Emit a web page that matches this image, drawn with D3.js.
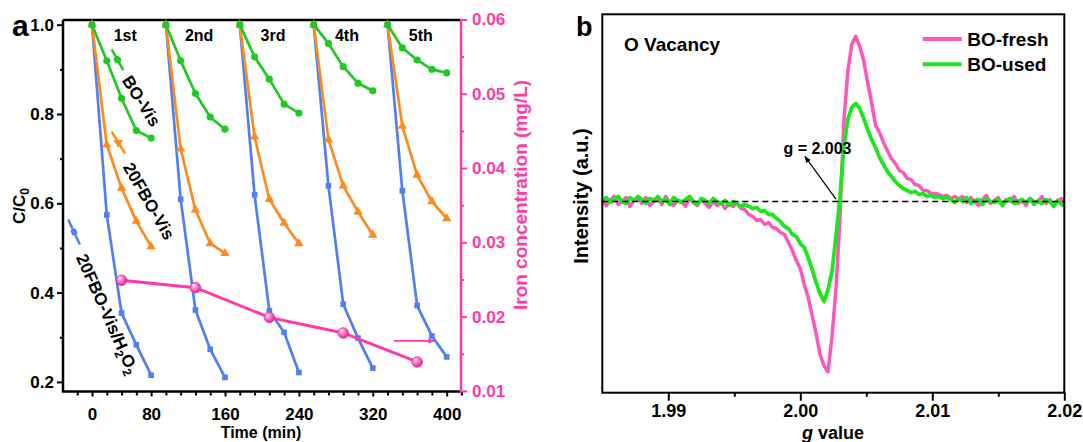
<!DOCTYPE html>
<html>
<head>
<meta charset="utf-8">
<script src="https://cdn.jsdelivr.net/npm/d3@7"></script>
<style>
body { margin: 0; background: #fff; }
svg { font-family: "Liberation Sans", Arial, sans-serif; font-weight: bold; }
</style>
</head>
<body>
<script>
const W = 1083
const H = 442

// ---------- panel a data ----------
const cycleLabels = ['1st', '2nd', '3rd', '4th', '5th']
const cycleLabelTimes = [52, 132, 212, 292, 372]
const cycleTimes = [
    [16, 32, 48, 64, 80],
    [96, 112, 128, 144, 160],
    [176, 192, 208, 224, 240],
    [256, 272, 288, 304, 320],
    [336, 352, 368, 384, 400]
]
const h2o2Vals = [
    [1.0, 0.574, 0.354, 0.283, 0.215],
    [1.0, 0.609, 0.361, 0.273, 0.210],
    [1.0, 0.619, 0.359, 0.311, 0.221],
    [1.0, 0.639, 0.374, 0.298, 0.231],
    [1.0, 0.628, 0.371, 0.303, 0.256]
]
const fboVals = [
    [1.0, 0.731, 0.634, 0.560, 0.503],
    [1.0, 0.722, 0.585, 0.510, 0.488],
    [1.0, 0.749, 0.609, 0.556, 0.510],
    [1.0, 0.743, 0.639, 0.581, 0.529],
    [1.0, 0.773, 0.663, 0.604, 0.566]
]
const boVals = [
    [1.0, 0.919, 0.835, 0.763, 0.746],
    [1.0, 0.919, 0.846, 0.793, 0.766],
    [1.0, 0.928, 0.878, 0.822, 0.802],
    [1.0, 0.958, 0.906, 0.869, 0.852],
    [1.0, 0.948, 0.921, 0.900, 0.892]
]
const ironTimes = [48, 128, 208, 288, 368]
const ironVals = [0.0249, 0.0239, 0.0199, 0.0178, 0.0139]

const xTickVals = [16, 80, 160, 240, 320, 400]
const xTickLabels = ['0', '80', '160', '240', '320', '400']
const yLeftTicks = [0.2, 0.4, 0.6, 0.8, 1.0]
const yLeftMinor = [0.3, 0.5, 0.7, 0.9]
const yRightTicks = [0.01, 0.02, 0.03, 0.04, 0.05, 0.06]
const yRightMinor = [0.015, 0.025, 0.035, 0.045, 0.055]

// ---------- panel b data ----------
const gTicks = [1.99, 2.00, 2.01, 2.02]
const gMinor = [1.995, 2.005, 2.015]
const gValues = [
    1.9850, 1.9853, 1.9856, 1.9859, 1.9862, 1.9865, 1.9868, 1.9871, 1.9874, 1.9877,
    1.9880, 1.9883, 1.9886, 1.9889, 1.9892, 1.9895, 1.9898, 1.9901, 1.9904, 1.9907,
    1.9910, 1.9913, 1.9916, 1.9919, 1.9922, 1.9925, 1.9928, 1.9931, 1.9934, 1.9937,
    1.9940, 1.9943, 1.9946, 1.9949, 1.9952, 1.9955, 1.9958, 1.9961, 1.9964, 1.9967,
    1.9970, 1.9973, 1.9976, 1.9979, 1.9982, 1.9985, 1.9988, 1.9991, 1.9994, 1.9997,
    2.0000, 2.0003, 2.0006, 2.0009, 2.0012, 2.0015, 2.0018, 2.0021, 2.0024, 2.0027,
    2.0030, 2.0033, 2.0036, 2.0039, 2.0042, 2.0045, 2.0048, 2.0051, 2.0054, 2.0057,
    2.0060, 2.0063, 2.0066, 2.0069, 2.0072, 2.0075, 2.0078, 2.0081, 2.0084, 2.0087,
    2.0090, 2.0093, 2.0096, 2.0099, 2.0102, 2.0105, 2.0108, 2.0111, 2.0114, 2.0117,
    2.0120, 2.0123, 2.0126, 2.0129, 2.0132, 2.0135, 2.0138, 2.0141, 2.0144, 2.0147,
    2.0150, 2.0153, 2.0156, 2.0159, 2.0162, 2.0165, 2.0168, 2.0171, 2.0174, 2.0177,
    2.0180, 2.0183, 2.0186, 2.0189, 2.0192, 2.0195, 2.0198, 2.0200
]
const freshVals = [
    2, -4, 1, 5, -3, 0, 4, -5, 1, 3, -2, 4, -4, 0, 3, -3, 5, -1, -4, 1,
    0, -5, 3, -1, -4, 2, -2, -6, 0, -4, -1, -7, -2, -5, -1,
    -7, -8, -13, -15, -19, -18, -23, -21, -26, -27, -31, -33, -41, -49, -59,
    -67, -83, -96, -114, -132, -153, -164, -170, -135, -88,
    -18, 80, 130, 157, 165, 155, 141, 119, 99, 76,
    69, 59, 51, 43, 38, 31, 29, 23, 22, 17, 16, 11, 11, 8, 8, 7, 5, 6, 3, 5, 2,
    5, -1, 4, 0, -4, 2, 6, -2, 1, 4, -4, 2, 0, 5, -2, 1, -4, 3, 0, -1, 5, -2, 2, -4, 1, 3,
    -2
]
const usedVals = [
    1, 4, -1, 2, 5, 0, -2, 4, 1, 5, 2, -2, 3, 1, 5, 0, 2, -3, 4, 1,
    -1, 2, 5, 0, -3, 3, 1, -2, 3, 0, -2, 1, -4, 0, -2, -5, -3,
    -5, -7, -6, -10, -9, -13, -13, -17, -20, -25, -27, -33, -35,
    -42, -46, -56, -68, -81, -92, -100, -88, -70, -35,
    3, 55, 82, 94, 98, 93, 83, 72, 62, 54,
    44, 37, 30, 25, 20, 16, 13, 11, 9, 10, 7, 8, 5, 6, 4, 5, 3, 4,
    2, -1, 3, 0, 4, -2, 1, 2, -3, 3, 0, -1, 2, -4, 1, 3, -2, 0, 2, -1, 3, -3, 1, -2, 2, 0, -5, 1, -3,
    -4
]

const blue = '#4f7ff0'
const orange = '#ff8a1c'
const green = '#22c822'
const pink = '#ff3aa8'
const bPink = '#ff55bd'
const bGreen = '#1ee61e'

const svg = d3.select('body').append('svg')
    .attr('width', W)
    .attr('height', H)

const defs = svg.append('defs')
const grad = defs.append('radialGradient')
    .attr('id', 'sphere')
    .attr('cx', '40%').attr('cy', '40%').attr('r', '60%')
    .attr('fx', '35%').attr('fy', '30%')
grad.append('stop').attr('offset', '0%').attr('stop-color', '#ffffff')
grad.append('stop').attr('offset', '35%').attr('stop-color', '#ff8fd0')
grad.append('stop').attr('offset', '100%').attr('stop-color', '#e8249a')

const addArrow = (id, color) => {
    defs.append('marker')
        .attr('id', id)
        .attr('viewBox', '0 0 10 10')
        .attr('refX', 9).attr('refY', 5)
        .attr('markerWidth', 7).attr('markerHeight', 7)
        .attr('markerUnits', 'userSpaceOnUse')
        .attr('orient', 'auto')
        .append('path')
        .attr('d', 'M0,1 L10,5 L0,9 Z')
        .attr('fill', color)
}
addArrow('arrowPink', pink)
addArrow('arrowBlack', '#000')

// ================= panel a =================
const aLeft = 63, aRight = 461, aTop = 20, aBottom = 391.5

const xA = d3.scaleLinear().domain([-15.4, 415.5]).range([aLeft, aRight])
const yL = d3.scaleLinear().domain([0.1785, 1.0105]).range([aBottom, aTop])
const yR = d3.scaleLinear().domain([0.01, 0.06]).range([390.9, 19.5])

const styleAxis = (g, color, size) => {
    g.select('.domain').remove()
    g.selectAll('line').attr('stroke', color).attr('stroke-width', 2)
    g.selectAll('text').attr('fill', color).style('font-size', size + 'px')
        .style('font-family', '"Liberation Sans", Arial, sans-serif').style('font-weight', 'bold')
}

svg.append('g')
    .attr('transform', `translate(${aLeft},0)`)
    .call(d3.axisLeft(yL).tickValues(yLeftTicks).tickSize(6).tickPadding(3).tickFormat(d3.format('.1f')))
    .call(g => styleAxis(g, '#000', 17))
svg.append('g')
    .attr('transform', `translate(${aLeft},0)`)
    .call(d3.axisLeft(yL).tickValues(yLeftMinor).tickSize(3).tickFormat(''))
    .call(g => styleAxis(g, '#000', 17))

svg.append('g')
    .attr('transform', `translate(0,${aBottom})`)
    .call(d3.axisBottom(xA).tickValues(xTickVals).tickSize(5).tickPadding(11).tickFormat((d, i) => xTickLabels[i]))
    .call(g => styleAxis(g, '#000', 17))
svg.append('g')
    .attr('transform', `translate(0,${aBottom})`)
    .call(d3.axisBottom(xA).tickValues(d3.range(0, 417, 16).filter(d => !xTickVals.includes(d))).tickSize(4).tickFormat(''))
    .call(g => styleAxis(g, '#000', 17))

svg.append('g')
    .attr('transform', `translate(${aRight},0)`)
    .call(d3.axisRight(yR).tickValues(yRightTicks).tickSize(6).tickPadding(5).tickFormat(d3.format('.2f')))
    .call(g => styleAxis(g, pink, 17))
svg.append('g')
    .attr('transform', `translate(${aRight},0)`)
    .call(d3.axisRight(yR).tickValues(yRightMinor).tickSize(3).tickFormat(''))
    .call(g => styleAxis(g, pink, 17))

// frame
svg.append('path')
    .attr('d', `M${aLeft},${aTop} V${aBottom} H${aRight}`)
    .attr('fill', 'none').attr('stroke', '#000').attr('stroke-width', 2.5)
svg.append('line')
    .attr('x1', aLeft).attr('x2', aRight).attr('y1', aTop).attr('y2', aTop)
    .attr('stroke', '#000').attr('stroke-width', 2.5)
svg.append('line')
    .attr('x1', aRight).attr('x2', aRight).attr('y1', 19).attr('y2', aBottom + 1)
    .attr('stroke', pink).attr('stroke-width', 2.5)

const series = [
    { vals: h2o2Vals, color: blue, symbol: d3.symbolSquare, size: 32 },
    { vals: fboVals, color: orange, symbol: d3.symbolTriangle, size: 38 },
    { vals: boVals, color: green, symbol: d3.symbolCircle, size: 40 }
]

const lineA = d3.line()
    .x(d => xA(d[0]))
    .y(d => yL(d[1]))

series.forEach(s => {
    const g = svg.append('g')
    s.vals.forEach((vals, c) => {
        const pts = vals.map((v, i) => [cycleTimes[c][i], v])
        g.append('path')
            .attr('d', lineA(pts))
            .attr('fill', 'none')
            .attr('stroke', s.color)
            .attr('stroke-width', 2.7)
            .attr('stroke-linejoin', 'round')
        g.selectAll(null)
            .data(pts)
            .enter()
            .append('path')
            .attr('d', d3.symbol(s.symbol, s.size))
            .attr('transform', d => `translate(${xA(d[0])},${yL(d[1])})`)
            .attr('fill', s.color)
    })
})

// iron concentration
const ironPts = ironTimes.map((t, i) => [t, ironVals[i]])
svg.append('path')
    .attr('d', d3.line().x(d => xA(d[0])).y(d => yR(d[1]))(ironPts))
    .attr('fill', 'none')
    .attr('stroke', pink)
    .attr('stroke-width', 3)
svg.selectAll('.iron')
    .data(ironPts)
    .enter()
    .append('circle')
    .attr('class', 'iron')
    .attr('cx', d => xA(d[0]))
    .attr('cy', d => yR(d[1]))
    .attr('r', 5.3)
    .attr('fill', 'url(#sphere)')
    .attr('stroke', '#e0309a')
    .attr('stroke-width', 0.8)

svg.append('line')
    .attr('x1', xA(343)).attr('x2', xA(387))
    .attr('y1', yR(0.01674)).attr('y2', yR(0.01674))
    .attr('stroke', pink).attr('stroke-width', 1.6)
    .attr('marker-end', 'url(#arrowPink)')

// cycle labels
svg.selectAll('.cyc')
    .data(cycleLabels)
    .enter()
    .append('text')
    .attr('class', 'cyc')
    .attr('x', (d, i) => xA(cycleLabelTimes[i]))
    .attr('y', 41)
    .attr('text-anchor', 'middle')
    .style('font-size', '16px')
    .text(d => d)

// rotated legend keys and series names
const keys = [
    { x: 117.5, y: 59.7, angle: 60.7, half: 11.9, s: series[2] },
    { x: 118.3, y: 142.5, angle: 58.4, half: 12.7, s: series[1] },
    { x: 74, y: 232, angle: 64.9, half: 13.8, s: series[0] }
]
keys.forEach(k => {
    const g = svg.append('g').attr('transform', `translate(${k.x},${k.y}) rotate(${k.angle})`)
    g.append('line').attr('x1', -k.half).attr('x2', k.half)
        .attr('stroke', k.s.color).attr('stroke-width', 2.5)
    g.append('path').attr('d', d3.symbol(k.s.symbol, k.s.size)).attr('fill', k.s.color)
})

const nameLabel = (x, y, angle, parts) => {
    const t = svg.append('text')
        .attr('transform', `translate(${x},${y}) rotate(${angle})`)
        .attr('text-anchor', 'middle')
        .attr('dy', '0.35em')
        .style('font-size', '17px')
    parts.forEach(p => {
        const ts = t.append('tspan').text(p.t)
        if (p.sub) ts.attr('dy', 4).style('font-size', '12px')
        if (p.up) ts.attr('dy', -4)
    })
}
nameLabel(141.5, 101, 58, [{ t: 'BO-Vis' }])
nameLabel(149, 201, 60, [{ t: '20FBO-Vis' }])
nameLabel(107.5, 314, 66, [{ t: '20FBO-Vis/H' }, { t: '2', sub: true }, { t: 'O', up: true }, { t: '2', sub: true }])

// axis titles
svg.append('text')
    .attr('transform', 'translate(25,206) rotate(-90)')
    .attr('text-anchor', 'middle')
    .style('font-size', '17px')
    .call(t => {
        t.append('tspan').text('C/C')
        t.append('tspan').text('0').attr('dy', 4).style('font-size', '12px')
    })
svg.append('text')
    .attr('x', 261).attr('y', 438)
    .attr('text-anchor', 'middle')
    .style('font-size', '16px')
    .text('Time (min)')
svg.append('text')
    .attr('transform', 'translate(526.5,195) rotate(-90)')
    .attr('text-anchor', 'middle')
    .attr('fill', pink)
    .style('font-size', '19px')
    .text('Iron concentration (mg/L)')
svg.append('text')
    .attr('x', 12).attr('y', 36)
    .style('font-size', '30px')
    .text('a')

// ================= panel b =================
const bLeft = 602.3, bRight = 1064.3, bTop = 14.3, bBottom = 392.7

const xB = d3.scaleLinear().domain([1.985, 2.02]).range([bLeft, bRight])
const yB = d3.scaleLinear().domain([-191, 187]).range([bBottom, bTop])

svg.append('g')
    .attr('transform', `translate(0,${bBottom})`)
    .call(d3.axisBottom(xB).tickValues(gTicks).tickSize(8).tickPadding(4).tickFormat(d3.format('.2f')))
    .call(g => styleAxis(g, '#000', 18))
svg.append('g')
    .attr('transform', `translate(0,${bBottom})`)
    .call(d3.axisBottom(xB).tickValues(gMinor).tickSize(4).tickFormat(''))
    .call(g => styleAxis(g, '#000', 18))

const lineB = d3.line()
    .x((d, i) => xB(gValues[i]))
    .y(d => yB(d))

svg.append('path')
    .attr('d', lineB(freshVals))
    .attr('fill', 'none')
    .attr('stroke', bPink)
    .attr('stroke-width', 3.5)
    .attr('stroke-linejoin', 'round')
svg.append('path')
    .attr('d', lineB(usedVals))
    .attr('fill', 'none')
    .attr('stroke', bGreen)
    .attr('stroke-width', 3.8)
    .attr('stroke-linejoin', 'round')

svg.append('line')
    .attr('x1', bLeft).attr('x2', bRight)
    .attr('y1', yB(0)).attr('y2', yB(0))
    .attr('stroke', '#000').attr('stroke-width', 1.3)
    .attr('stroke-dasharray', '6,4')

svg.append('rect')
    .attr('x', bLeft).attr('y', bTop)
    .attr('width', bRight - bLeft).attr('height', bBottom - bTop)
    .attr('fill', 'none').attr('stroke', '#000').attr('stroke-width', 2)

// annotation
svg.append('line')
    .attr('x1', xB(2.0027)).attr('y1', yB(2.4))
    .attr('x2', xB(2.00035)).attr('y2', yB(45))
    .attr('stroke', '#000').attr('stroke-width', 1.2)
    .attr('marker-end', 'url(#arrowBlack)')
svg.append('text')
    .attr('x', xB(2.0013)).attr('y', yB(52.7)).attr('dy', '0.35em')
    .attr('text-anchor', 'middle')
    .style('font-size', '16px')
    .text('g = 2.003')

svg.append('text')
    .attr('x', 624).attr('y', 51)
    .style('font-size', '19px')
    .text('O Vacancy')

const legend = [
    { name: 'BO-fresh', color: bPink, y: 39 },
    { name: 'BO-used', color: bGreen, y: 64.3 }
]
legend.forEach(l => {
    svg.append('line')
        .attr('x1', 922.7).attr('x2', 961.7)
        .attr('y1', l.y).attr('y2', l.y)
        .attr('stroke', l.color).attr('stroke-width', 4)
    svg.append('text')
        .attr('x', 967.3).attr('y', l.y).attr('dy', '0.35em')
        .style('font-size', '19px')
        .text(l.name)
})

svg.append('text')
    .attr('transform', 'translate(588,196) rotate(-90)')
    .attr('text-anchor', 'middle')
    .style('font-size', '20px')
    .text('Intensity (a.u.)')
svg.append('text')
    .attr('x', 833).attr('y', 439)
    .attr('text-anchor', 'middle')
    .style('font-size', '18px')
    .call(t => {
        t.append('tspan').text('g').style('font-style', 'italic')
        t.append('tspan').text(' value')
    })
svg.append('text')
    .attr('x', 576).attr('y', 36)
    .style('font-size', '27px')
    .text('b')
</script>
</body>
</html>
